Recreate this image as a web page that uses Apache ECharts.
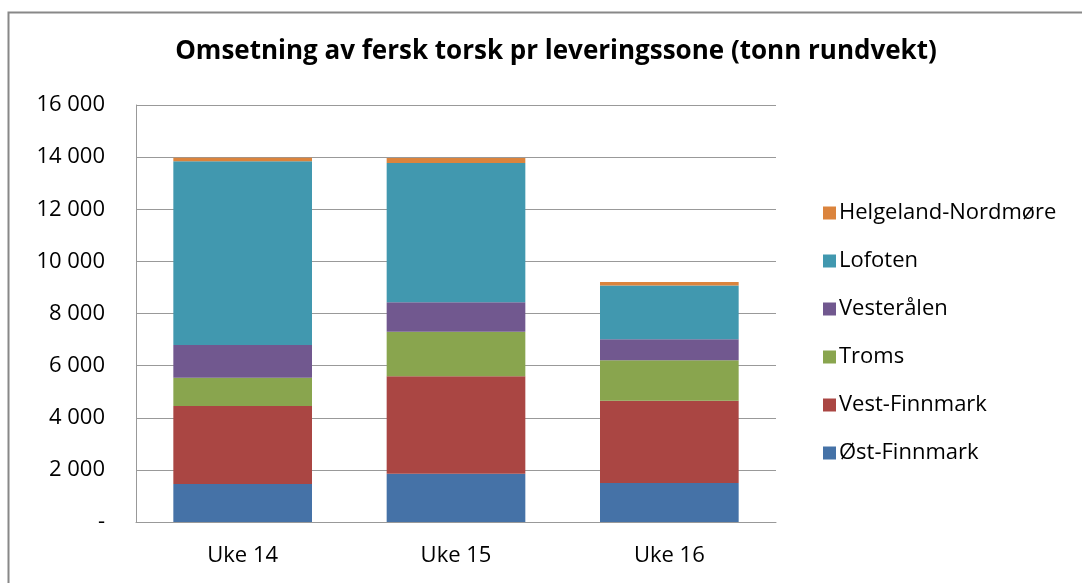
<!DOCTYPE html>
<html style="height: 100%">
<head>
    <meta charset="utf-8">
    <script src="https://cdn.jsdelivr.net/npm/echarts@6/dist/echarts.min.js"></script>
</head>
<body style="height: 100%; margin: 0; background: #fff">
    <div id="container" style="width: 1082px; height: 583px"></div>
    <script type="text/javascript">
        var weeks = ['Uke 14', 'Uke 15', 'Uke 16'];
        var ostFinnmark = [1460, 1850, 1500];
        var vestFinnmark = [2990, 3740, 3150];
        var troms = [1080, 1710, 1560];
        var vesteralen = [1260, 1130, 800];
        var lofoten = [7050, 5340, 2060];
        var helgeland = [140, 200, 140];

        var names = ['Øst-Finnmark', 'Vest-Finnmark', 'Troms', 'Vesterålen', 'Lofoten', 'Helgeland-Nordmøre'];
        var colors = ['#4572A7', '#AA4643', '#89A54E', '#71588F', '#4198AF', '#DB843D'];
        var values = [ostFinnmark, vestFinnmark, troms, vesteralen, lofoten, helgeland];

        var font = '"Open Sans", Lato, sans-serif';

        function fmt(v) {
            if (v === 0) return '-';
            return String(v).replace(/\B(?=(\d{3})+(?!\d))/g, ' ');
        }

        var series = [];
        for (let i = 0; i < names.length; i++) {
            series.push({
                name: names[i],
                type: 'bar',
                stack: 'total',
                data: values[i],
                barWidth: '65%',
                itemStyle: { color: colors[i] }
            });
        }

        var myChart = echarts.init(document.getElementById('container'));
        myChart.setOption({
            animation: false,
            textStyle: { fontFamily: font },
            graphic: [{
                type: 'rect',
                shape: { x: 8.5, y: 12.5, width: 1200, height: 700 },
                style: { fill: 'none', stroke: '#888', lineWidth: 2 },
                silent: true
            }],
            title: {
                text: 'Omsetning av fersk torsk pr leveringssone (tonn rundvekt)',
                left: 551,
                textAlign: 'center',
                top: 34,
                textStyle: { fontFamily: font, fontSize: 26, fontWeight: 'bold', color: '#000' }
            },
            legend: {
                orient: 'vertical',
                left: 818,
                top: 197,
                itemWidth: 13,
                itemHeight: 13,
                itemGap: 26,
                icon: 'rect',
                data: names.slice().reverse(),
                textStyle: { fontFamily: font, fontSize: 22, color: '#000', padding: [0, 0, 0, -2] }
            },
            grid: { left: 136, right: 306, top: 105, bottom: 61 },
            xAxis: {
                type: 'category',
                data: weeks,
                axisTick: { show: false },
                axisLine: { lineStyle: { color: '#999', width: 1 } },
                axisLabel: { color: '#000', fontSize: 22, margin: 23, fontFamily: font }
            },
            yAxis: {
                type: 'value',
                min: 0,
                max: 16000,
                interval: 2000,
                axisLine: { show: true, lineStyle: { color: '#999', width: 1 } },
                axisTick: { show: false },
                splitLine: { lineStyle: { color: '#999', width: 1 } },
                axisLabel: { color: '#000', fontSize: 22, margin: 31, fontFamily: font, formatter: fmt }
            },
            series: series
        });
    </script>
</body>
</html>
